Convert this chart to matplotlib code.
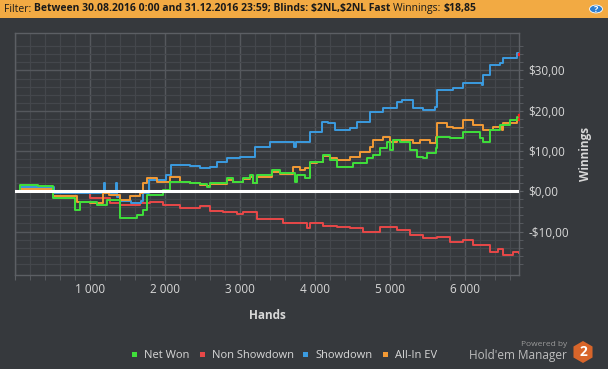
import numpy as np
import matplotlib
matplotlib.use("Agg")
import matplotlib.pyplot as plt
from matplotlib.patches import Rectangle, RegularPolygon
from matplotlib.ticker import MultipleLocator, FixedLocator, FuncFormatter

plt.rcParams['font.family'] = ['Open Sans', 'DejaVu Sans']

# ---- data (hands, winnings in $) ----
showdown_h = [0, 60, 500, 520, 1170, 1180, 1200, 1330, 1340, 1360, 1400, 1550, 1680, 1710, 1760,
              1780, 1990, 2010, 2060, 2075, 2333, 2467, 2600, 2689, 2822, 3000, 3200, 3400, 3700,
              3720, 3740, 3800, 3933, 4089, 4178, 4267, 4467, 4556, 4733, 4911, 5089, 5156, 5311,
              5444, 5600, 5622, 5840, 5978, 6111, 6222, 6244, 6333, 6467, 6511, 6622, 6689, 6720]
showdown_v = [0, 1.1, 1.1, -0.5, -0.5, 2.0, -0.5, -0.5, 2.0, -1.5, -2.5, -2.8, -2.5, -0.5, -0.5,
              2.8, 2.8, 4.0, 4.0, 6.5, 6.3, 5.7, 6.1, 7.3, 8.2, 8.6, 11.1, 12.3, 12.3,
              11.0, 12.3, 12.3, 14.8, 17.3, 16.9, 15.2, 15.6, 17.3, 19.8, 20.6, 22.2, 22.7, 20.6,
              20.2, 21.0, 25.1, 25.6, 27.0, 26.9, 26.5, 28.9, 31.4, 31.8, 33.0, 33.1, 34.3, 34.2]

netwon_h = [0, 60, 300, 500, 511, 780, 800, 860, 870, 1000, 1089, 1200, 1222, 1380, 1400, 1533,
            1622, 1711, 1745, 1756, 1889, 1978, 2067, 2200, 2333, 2467, 2556, 2600, 2822, 2911,
            3044, 3133, 3178, 3222, 3422, 3533, 3720, 3733, 3760, 3867, 3920, 3933, 4022, 4111,
            4200, 4289, 4467, 4511, 4689, 4778, 4867, 4956, 5000, 5044, 5133, 5267, 5356, 5444,
            5489, 5610, 5622, 5800, 5978, 6200, 6244, 6333, 6467, 6600, 6689, 6720]
netwon_v = [0, 1.6, 1.2, 1.1, -1.7, -1.7, -4.6, -4.6, -2.7, -2.7, -3.4, -3.4, -2.2, -2.2, -6.7, -6.7,
            -5.9, -4.6, -4.6, -0.9, -0.9, 0.3, 2.4, 2.2, 2.1, 1.8, 1.1, 2.1, 3.2, 2.4,
            3.2, 4.0, 2.1, 4.0, 5.3, 4.5, 4.5, 2.4, 4.0, 3.3, 3.3, 7.3, 7.3, 9.0,
            7.8, 6.1, 6.1, 7.0, 8.2, 9.0, 10.7, 12.3, 10.2, 12.7, 12.3, 10.2, 8.6, 8.2,
            9.4, 10.7, 13.5, 13.1, 14.8, 13.1, 12.3, 15.2, 16.5, 17.7, 18.5, 18.85]

allin_h = [0, 60, 500, 511, 780, 822, 1000, 1130, 1178, 1250, 1400, 1533, 1667, 1711, 1756, 1889,
           2067, 2200, 2333, 2467, 2556, 2600, 2822, 2911, 3044, 3133, 3178, 3222, 3422, 3533,
           3700, 3711, 3800, 3867, 3933, 4022, 4111, 4200, 4289, 4467, 4600, 4733, 4778, 4911,
           5000, 5089, 5178, 5311, 5400, 5533, 5610, 5622, 5756, 5844, 5978, 6111, 6244, 6378,
           6489, 6511, 6689, 6720]
allin_v = [0, 0.5, 0.3, -1.3, -1.3, -2.6, -2.8, -3.0, -0.5, -0.9, -2.2, -1.3, -0.5, 2.0, 3.2, 2.4,
           3.6, 2.3, 2.0, 1.6, 1.3, 1.9, 2.8, 2.3, 3.0, 3.6, 2.0, 3.6, 4.9, 4.3,
           4.2, 6.1, 5.3, 5.8, 7.0, 7.2, 8.8, 8.2, 7.8, 8.6, 9.8, 11.1, 12.7, 13.5,
           12.3, 12.7, 12.7, 11.9, 12.7, 11.9, 13.5, 16.9, 16.0, 15.6, 17.7, 16.5, 15.2, 16.0,
           15.2, 16.9, 18.1, 18.0]

nonsd_h = [0, 100, 500, 780, 1000, 1267, 1400, 1667, 1800, 1978, 2200, 2333, 2467, 2600, 2778,
           2956, 3044, 3222, 3400, 3578, 3700, 3889, 3933, 4111, 4289, 4467, 4644, 4867, 5089,
           5267, 5444, 5622, 5800, 5978, 6111, 6333, 6444, 6511, 6644, 6720]
nonsd_v = [0, -0.3, -0.5, -0.5, -1.7, -3.0, -3.4, -3.0, -2.6, -3.4, -4.2, -4.2, -3.6, -4.8, -5.1,
           -5.6, -5.1, -7.0, -7.0, -7.9, -8.0, -9.2, -7.8, -8.6, -8.8, -9.2, -10.0, -8.8, -9.6,
           -10.8, -11.7, -11.3, -12.5, -12.1, -13.3, -15.0, -14.4, -15.8, -15.0, -15.3]

series_names = ['Net Won', 'Non Showdown', 'Showdown', 'All-In EV']
series_colors = ['#3fe03a', '#e84848', '#3b9be0', '#f39a35']

y_major = [-10, 0, 10, 20, 30]
y_minor = [v for v in range(-18, 37, 2) if v % 10 != 0]

BG = '#36393d'
HEADER = '#f2aa43'
TXT = '#d8d8d8'

fig = plt.figure(figsize=(6.08, 3.69), dpi=100, facecolor=BG)
W, H = 608, 369

# header bar
fig.patches.append(Rectangle((0, 1 - 18 / H), 1, 18 / H, transform=fig.transFigure,
                             facecolor=HEADER, edgecolor='none', zorder=0))

ax = fig.add_axes([15 / W, 1 - 275 / H, (519 - 15) / W, (275 - 33) / H])
ax.set_facecolor(BG)

ax.plot(nonsd_h, nonsd_v, color=series_colors[1], lw=1.4, zorder=3, drawstyle='steps-post')
ax.plot(showdown_h, showdown_v, color=series_colors[2], lw=1.4, zorder=4, drawstyle='steps-post')
ax.plot(allin_h, allin_v, color=series_colors[3], lw=1.4, zorder=5, drawstyle='steps-post')
ax.plot(netwon_h, netwon_v, color=series_colors[0], lw=1.4, zorder=6, drawstyle='steps-post')
ax.axhline(0, color='white', lw=2.2, zorder=7)
for h, v in [(showdown_h, showdown_v), (netwon_h, netwon_v), (allin_h, allin_v)]:
    ax.plot(h[-1], v[-1], 's', color='#ff2020', ms=1.5, zorder=8)

ax.set_xlim(0, 6720)
ax.set_ylim(-20.8, 39.3)

ax.xaxis.set_major_locator(MultipleLocator(1000))
ax.xaxis.set_minor_locator(MultipleLocator(200))
ax.yaxis.set_major_locator(FixedLocator(y_major))
ax.yaxis.set_minor_locator(FixedLocator(y_minor))
ax.xaxis.set_major_formatter(FuncFormatter(lambda x, p: '' if x <= 0 else f'{int(x):,}'.replace(',', ' ')))


def money(v, p):
    s = f'{abs(v):.2f}'.replace('.', ',')
    return ('-\\$' if v < 0 else '\\$') + s


ax.yaxis.set_major_formatter(FuncFormatter(money))
ax.yaxis.tick_right()
ax.yaxis.set_label_position('right')

ax.grid(which='minor', color='#44474c', lw=0.9)
ax.grid(which='major', color='#55585d', lw=1.0)
ax.set_axisbelow(True)
for s in ax.spines.values():
    s.set_color('#5c5f64')
    s.set_linewidth(1.0)

ax.tick_params(which='both', colors='#5c5f64', labelcolor=TXT, labelsize=8.5)
ax.tick_params(axis='x', which='both', length=3.6, pad=2.5)
ax.tick_params(axis='y', which='both', length=2.9, pad=4)

ax.set_xlabel('Hands', color=TXT, fontsize=8.5, fontweight='bold', labelpad=9)
ax.set_ylabel('Winnings', color=TXT, fontsize=8.5, fontweight='bold', labelpad=7)

# header text with mixed weights
fig.canvas.draw()
renderer = fig.canvas.get_renderer()
parts = [('Filter: ', 'normal'),
         ('Between 30.08.2016 0:00 and 31.12.2016 23:59; Blinds: $2NL,$2NL Fast ', 'bold'),
         ('Winnings: ', 'normal'),
         ('$18,85', 'bold')]
xpos = 4
for txt, wt in parts:
    t = fig.text(xpos / W, 1 - 9 / H, txt, color='#1a1a1a', fontsize=7.45, fontweight=wt,
                 va='center', ha='left', parse_math=False)
    bb = t.get_window_extent(renderer)
    xpos += bb.width

# help icon
fig.patches.append(plt.Circle((596 / W, 1 - 9 / H), 6.5 / W, transform=fig.transFigure,
                              facecolor='#2f7fd0', edgecolor='white', lw=0.6))
fig.text(596 / W, 1 - 9 / H, '?', color='white', fontsize=6.5, fontweight='bold',
         ha='center', va='center')

# legend
leg_x = [132, 200, 303, 383]
for lx, name, c in zip(leg_x, series_names, series_colors):
    fig.patches.append(Rectangle((lx / W, 1 - 357 / H), 5 / W, 5 / H, transform=fig.transFigure,
                                 facecolor=c, edgecolor='none'))
    fig.text((lx + 12) / W, 1 - 355 / H, name, color=TXT, fontsize=8, va='center', ha='left')

# branding
fig.text(567 / W, 1 - 344 / H, 'Powered by', color='#9a9a9a', fontsize=6, ha='right', va='center')
fig.text(567 / W, 1 - 356 / H, "Hold'em Manager", color='#bdbdbd', fontsize=8.5, ha='right', va='center')
lax = fig.add_axes([571 / W, 1 - 364 / H, 24 / W, 24 / H])
lax.set_xlim(-12, 12)
lax.set_ylim(-12, 12)
lax.set_aspect('equal')
lax.axis('off')
lax.add_patch(RegularPolygon((0, 0), 6, radius=11, orientation=0,
                             facecolor='#d8652a', edgecolor='none'))
lax.text(0, 0, '2', color='white', fontsize=10, fontweight='bold', ha='center', va='center')

fig.savefig('out.png', dpi=100, facecolor=BG)
